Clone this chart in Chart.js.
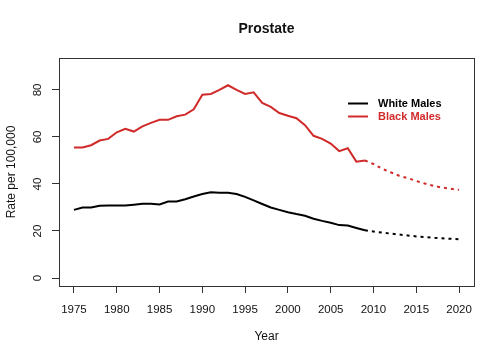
<!DOCTYPE html>
<html>
<head>
<meta charset="utf-8">
<script src="https://cdn.jsdelivr.net/npm/chart.js@4.4.1/dist/chart.umd.min.js"></script>
<style>
  html, body { margin: 0; padding: 0; background: #fff; }
  #wrap { width: 504px; height: 360px; }
</style>
</head>
<body>
<div id="wrap"><canvas id="chart" width="504" height="360"></canvas></div>
<script>
// observed rates, 1975-2009
const obsYears = [1975, 1976, 1977, 1978, 1979, 1980, 1981, 1982, 1983, 1984, 1985, 1986,
  1987, 1988, 1989, 1990, 1991, 1992, 1993, 1994, 1995, 1996, 1997, 1998, 1999, 2000,
  2001, 2002, 2003, 2004, 2005, 2006, 2007, 2008, 2009];
const whiteObs = [29, 30, 30, 30.7, 30.8, 30.8, 30.8, 31.2, 31.6, 31.6, 31.3, 32.5,
  32.6, 33.5, 34.7, 35.7, 36.5, 36.3, 36.3, 35.7, 34.5, 33, 31.5, 30, 29, 28,
  27.2, 26.5, 25.2, 24.3, 23.5, 22.5, 22.3, 21.3, 20.3];
const blackObs = [55.5, 55.5, 56.5, 58.5, 59.2, 62, 63.5, 62.3, 64.5, 66, 67.3, 67.3,
  68.8, 69.5, 71.8, 78, 78.3, 80, 82, 80, 78.3, 79, 74.5, 72.8, 70.2, 69,
  68, 65, 60.5, 59.2, 57.2, 54, 55.2, 49.5, 50];

// projected rates, 2009-2020
const projYears = [2009, 2010, 2011, 2012, 2013, 2014, 2015, 2016, 2017, 2018, 2019, 2020];
const whiteProj = [20.3, 19.8, 19.3, 18.9, 18.5, 18.1, 17.7, 17.4, 17.1, 16.9, 16.7, 16.5];
const blackProj = [50, 48.5, 46.5, 45, 43.5, 42.5, 41.3, 40.2, 39.2, 38.5, 38, 37.5];

const seriesNames = ["White Males", "Black Males"];
const xTicks = [1975, 1980, 1985, 1990, 1995, 2000, 2005, 2010, 2015, 2020];
const yTicks = [0, 20, 40, 60, 80];

const colors = { white: "#000000", black: "#d02a2a", axis: "#333333", text: "#111111" };
const fontFam = '"Liberation Sans", Arial, Helvetica, sans-serif';

const pts = (xs, ys) => xs.map((x, i) => ({ x: x, y: ys[i] }));

// R-style furniture: box, rotated y labels, titles, legend
const rFrame = {
  id: "rFrame",
  afterDraw(chart) {
    const { ctx, chartArea: a, scales } = chart;
    ctx.save();
    ctx.strokeStyle = colors.axis;
    ctx.lineWidth = 1;
    ctx.strokeRect(a.left + 0.5, a.top + 0.5, a.right - a.left, a.bottom - a.top);

    ctx.fillStyle = colors.text;
    ctx.textAlign = "center";
    ctx.textBaseline = "middle";

    // y tick labels, rotated like R's las=0
    ctx.font = "11.5px " + fontFam;
    yTicks.forEach((v) => {
      const y = scales.y.getPixelForValue(v);
      ctx.save();
      ctx.translate(38, y);
      ctx.rotate(-Math.PI / 2);
      ctx.fillText(String(v), 0, 0);
      ctx.restore();
    });

    // y axis title
    ctx.font = "12px " + fontFam;
    ctx.save();
    ctx.translate(12, (a.top + a.bottom) / 2);
    ctx.rotate(-Math.PI / 2);
    ctx.fillText("Rate per 100,000", 0, 0);
    ctx.restore();

    // x axis title
    ctx.fillText("Year", (a.left + a.right) / 2, 337);

    // main title
    ctx.font = "bold 14px " + fontFam;
    ctx.fillText("Prostate", (a.left + a.right) / 2, 29);

    // legend
    ctx.font = "bold 11px " + fontFam;
    ctx.textAlign = "left";
    const legendColors = [colors.white, colors.black];
    seriesNames.forEach((name, i) => {
      const y = 103.5 + i * 13;
      ctx.strokeStyle = legendColors[i];
      ctx.lineWidth = 2;
      ctx.beginPath();
      ctx.moveTo(348, y);
      ctx.lineTo(368, y);
      ctx.stroke();
      ctx.fillStyle = legendColors[i];
      ctx.fillText(name, 378, y);
    });
    ctx.restore();
  },
};

const lineBase = { showLine: true, pointRadius: 0, borderWidth: 2, tension: 0, fill: false };

new Chart(document.getElementById("chart"), {
  type: "scatter",
  data: {
    datasets: [
      { ...lineBase, label: seriesNames[0], data: pts(obsYears, whiteObs), borderColor: colors.white },
      { ...lineBase, label: seriesNames[1], data: pts(obsYears, blackObs), borderColor: colors.black },
      { ...lineBase, label: seriesNames[0] + " (projected)", data: pts(projYears, whiteProj),
        borderColor: colors.white, borderDash: [3, 4] },
      { ...lineBase, label: seriesNames[1] + " (projected)", data: pts(projYears, blackProj),
        borderColor: colors.black, borderDash: [3, 4] },
    ],
  },
  options: {
    responsive: false,
    animation: false,
    layout: { padding: { top: 58, right: 30, left: 0, bottom: 0 } },
    plugins: { legend: { display: false }, title: { display: false }, tooltip: { enabled: false } },
    scales: {
      x: {
        type: "linear",
        min: 1973.25,
        max: 2021.75,
        afterBuildTicks: (s) => { s.ticks = xTicks.map((v) => ({ value: v })); },
        afterFit: (s) => { s.height = 74; },
        grid: { display: true, drawOnChartArea: false, drawTicks: true, tickLength: 7, color: colors.axis },
        border: { display: true, color: colors.axis },
        ticks: { color: colors.text, font: { size: 11.5, family: fontFam }, padding: 10, maxRotation: 0,
          callback: (v) => String(v) },
      },
      y: {
        type: "linear",
        min: -3.4,
        max: 93.6,
        afterBuildTicks: (s) => { s.ticks = yTicks.map((v) => ({ value: v })); },
        afterFit: (s) => { s.width = 59; },
        grid: { display: true, drawOnChartArea: false, drawTicks: true, tickLength: 7, color: colors.axis },
        border: { display: true, color: colors.axis },
        ticks: { display: false },
      },
    },
  },
  plugins: [rFrame],
});
</script>
</body>
</html>
